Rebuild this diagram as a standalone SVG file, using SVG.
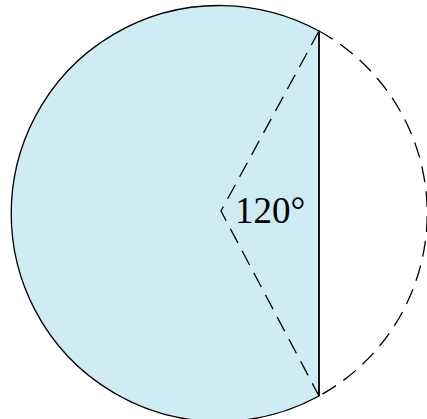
<svg xmlns="http://www.w3.org/2000/svg" width="427" height="419" viewBox="0 0 427 419">
<style>
.seg{fill:#cfebf4;stroke:#000;stroke-width:1.3}
.chord{stroke:#000;stroke-width:1.5;fill:none}
.dash{fill:none;stroke:#000;stroke-width:1.3;stroke-dasharray:16 9}
.lbl{font-family:"Liberation Serif","Times New Roman",serif;font-size:37px;fill:#000}
</style>
<rect width="427" height="419" fill="#fff"/>
<g id="segment">
<path class="seg" d="M319,31 A208,208 0 1 0 319,396 Z"/>
</g>
<g id="connectors">
<path class="dash" d="M319,31 A208,208 0 0 1 319,396"/>
<path class="dash" d="M319,31 L221,211 L319,396"/>
<line class="chord" x1="319" y1="31" x2="319" y2="396"/>
</g>
<g id="label">
<text class="lbl" x="235" y="223">120°</text>
</g>
</svg>
